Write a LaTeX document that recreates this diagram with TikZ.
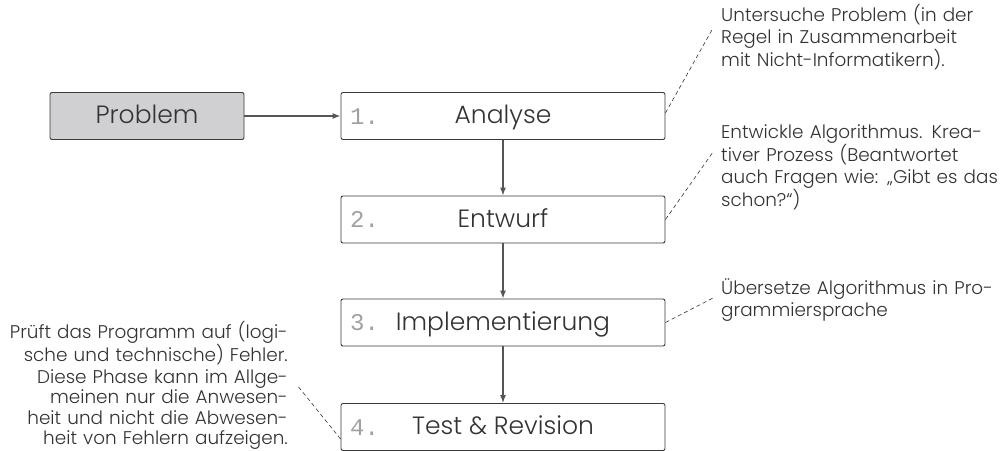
\documentclass[tikz,border=0pt]{standalone}
\usepackage{fontspec}
\setmainfont{Poppins Light}
\newfontfamily\numfont{Liberation Mono}
\usetikzlibrary{arrows.meta}
\definecolor{ink}{HTML}{333333}
\definecolor{boxline}{HTML}{3A3A3A}
\definecolor{arrowc}{HTML}{555555}
\definecolor{probfill}{HTML}{D0D0D2}
\definecolor{numc}{HTML}{A0A0A0}
\tikzset{
  stagebox/.style={draw=boxline, line width=0.9pt, rounded corners=2pt,
    minimum width=324pt, minimum height=47pt, inner sep=0pt,
    text=ink, font=\fontsize{25}{28}\selectfont, text height=15pt, text depth=0pt},
  probbox/.style={stagebox, fill=probfill, minimum width=194pt},
  numlabel/.style={anchor=base west, inner sep=0pt, text=numc, font=\numfont\fontsize{24}{26}\selectfont},
  flow/.style={draw=arrowc, line width=1.2pt, -{Latex[length=8pt,width=6pt]}},
  note/.style={draw=ink, line width=0.6pt, dash pattern=on 4pt off 3pt},
  annot/.style={inner sep=0pt, text=ink, text width=300pt, font=\fontsize{18.4}{22}\selectfont},
  annotl/.style={annot, font=\fontsize{18.4}{20.6}\selectfont},
}
\begin{document}
\begin{tikzpicture}[x=1pt,y=-1pt]
\useasboundingbox (0,0) rectangle (1003,450);
% boxes
\node[probbox] (prob) at (147,116) {Problem};
\node[stagebox] (s1) at (503,116) {Analyse};
\node[stagebox] (s2) at (503,219.5) {Entwurf};
\node[stagebox] (s3) at (503,322.5) {Implementierung};
\node[stagebox] (s4) at (503,427) {Test \& Revision};
% numbers
\node[numlabel] (n1) at (350,124) {1.};
\node[numlabel] (n2) at (350,227.5) {2.};
\node[numlabel] (n3) at (350,330.5) {3.};
\node[numlabel] (n4) at (350,435) {4.};
% arrows
\draw[flow] (prob.east) -- (s1.west);
\draw[flow] (s1.south) -- (s2.north);
\draw[flow] (s2.south) -- (s3.north);
\draw[flow] (s3.south) -- (s4.north);
% annotations
\node[annot, align=left, anchor=base west] (a1) at (721,21)
  {Untersuche Problem (in der\\Regel in Zusammenarbeit\\mit Nicht-Informatikern).};
\node[annot, align=left, anchor=base west] (a2) at (721,138)
  {Entwickle Algorithmus. Krea-\\tiver Prozess (Beantwortet\\auch Fragen wie: „Gibt es das\\schon?“)};
\node[annot, align=left, anchor=base west] (a3) at (721,294)
  {Übersetze Algorithmus in Pro-\\grammiersprache};
\node[annotl, align=right, anchor=base east] (a4) at (288,338)
  {Prüft das Programm auf (logi-\\sche und technische) Fehler.};
\node[annotl, align=right, anchor=base east] (a5) at (288,383)
  {Diese Phase kann im Allge-\\meinen nur die Anwesen-\\heit und nicht die Abwesen-\\heit von Fehlern aufzeigen.};
% callout lines
\coordinate (c1) at (713,28);
\coordinate (c2) at (713,152);
\coordinate (c3) at (713,298);
\coordinate (c4) at (297,385);
\draw[note] (s1.east) ++(0,-3) -- (c1);
\draw[note] (s2.east) -- (c2);
\draw[note] (s3.east) -- (c3);
\draw[note] ([yshift=-12pt]s4.west) -- (c4);
\end{tikzpicture}
\end{document}
